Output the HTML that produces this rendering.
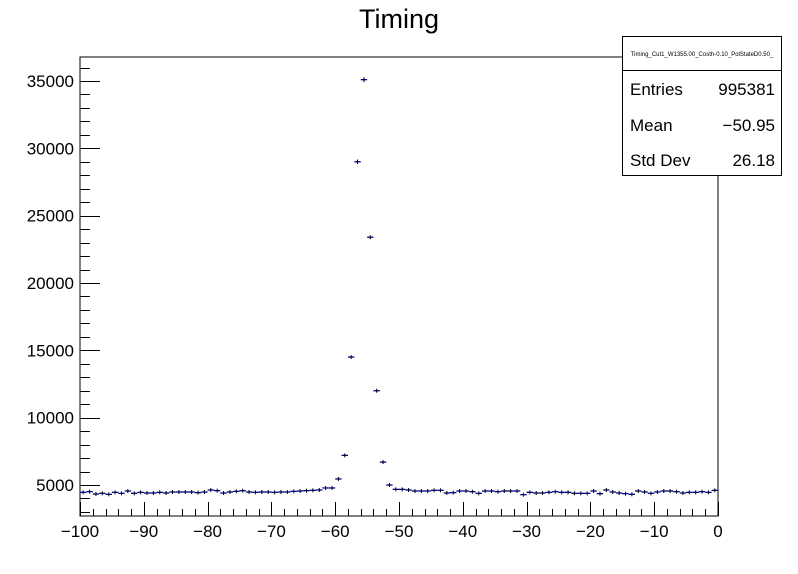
<!DOCTYPE html>
<html><head><meta charset="utf-8"><style>
body{margin:0;background:#fff;}
svg{display:block;font-family:"Liberation Sans",sans-serif;}
</style></head><body>
<svg id="c" width="798" height="574">
<text x="399" y="28" font-size="27" text-anchor="middle">Timing</text>
<rect x="80" y="57" width="638" height="459" fill="none" stroke="#000" stroke-width="1"/>
<g id="ax"></g><g id="marks"></g>
<g>
<rect x="622.5" y="36.5" width="159" height="139" fill="#fff" stroke="#000"/>
<line x1="622" y1="70.5" x2="782" y2="70.5" stroke="#000"/>
<text x="702" y="56" font-size="6" text-anchor="middle">Timing_Cut1_W1355.00_Costh-0.10_PolStateD0.50_</text>
<text x="630" y="95" font-size="17">Entries</text><text x="775" y="95" font-size="17" text-anchor="end">995381</text>
<text x="630" y="131" font-size="17">Mean</text><text x="775" y="131" font-size="17" text-anchor="end">−50.95</text>
<text x="630" y="166" font-size="17">Std Dev</text><text x="775" y="166" font-size="17" text-anchor="end">26.18</text>
</g>
</svg>
<script>
const binStart = -100, binWidth = 1;
const counts = [4455,4505,4332,4381,4307,4455,4381,4554,4381,4455,
4406,4406,4455,4406,4480,4480,4480,4480,4431,4480,
4629,4579,4406,4480,4530,4579,4480,4455,4480,4480,
4455,4480,4480,4530,4554,4579,4604,4629,4780,4780,
5450,7200,14500,29000,35100,23400,12000,6700,5000,
4678,4678,4629,4554,4554,4554,4604,4604,4406,4431,
4554,4554,4505,4381,4554,4554,4505,4554,4554,4554,
4282,4455,4406,4406,4455,4505,4455,4455,4381,4381,
4381,4554,4356,4629,4480,4406,4356,4307,4554,4480,
4381,4480,4554,4554,4505,4406,4455,4455,4505,4455,4604];
const xTicks = [-100,-90,-80,-70,-60,-50,-40,-30,-20,-10,0];
const yTicks = [5000,10000,15000,20000,25000,30000,35000];
const X0=80,X1=718,Y0=516,Y1=57, xmin=-100,xmax=0, ymin=2698, ymax=36782;
const sx=v=>X0+(v-xmin)/(xmax-xmin)*(X1-X0);
const sy=v=>Y0-(v-ymin)/(ymax-ymin)*(Y0-Y1);
const NS="http://www.w3.org/2000/svg";
const ax=document.getElementById('ax'), mk=document.getElementById('marks');
function ln(p,x1,y1,x2,y2,c,w){const l=document.createElementNS(NS,'line');l.setAttribute('x1',x1);l.setAttribute('y1',y1);l.setAttribute('x2',x2);l.setAttribute('y2',y2);l.setAttribute('stroke',c);l.setAttribute('stroke-width',w||1);p.appendChild(l);return l;}
function tx(p,x,y,s,a){const t=document.createElementNS(NS,'text');t.setAttribute('x',x);t.setAttribute('y',y);t.setAttribute('font-size',17);t.setAttribute('text-anchor',a);t.textContent=s;p.appendChild(t);return t;}
for(let v=xmin;v<=xmax;v+=2){const x=Math.round(sx(v))+0.5;const maj=v%10===0;const l=ln(ax,x,Y0,x,Y0-(maj?14:7),'#000');

}
xTicks.forEach(v=>{const t=tx(ax,sx(v),537,String(v).replace('-','−'),'middle');

});
for(let v=3000;v<=36000;v+=1000){const y=Math.round(sy(v))+0.5;const maj=v%5000===0;const l=ln(ax,X0,y,X0+(maj?20:10),y,'#000');

}
yTicks.forEach(v=>{const t=tx(ax,74,sy(v)+6,String(v),'end');

});
counts.forEach((c,i)=>{const lo=binStart+i*binWidth, hi=lo+binWidth, cx=sx(lo+binWidth/2), y=sy(c), e=Math.sqrt(c)*(Y0-Y1)/(ymax-ymin);
const g=document.createElementNS(NS,'g');


ln(g,sx(lo),y,sx(hi),y,'#00008b',1.3);ln(g,cx,y-Math.max(e,2),cx,y+Math.max(e,2),'#000',1);mk.appendChild(g);});
</script>
</body></html>
